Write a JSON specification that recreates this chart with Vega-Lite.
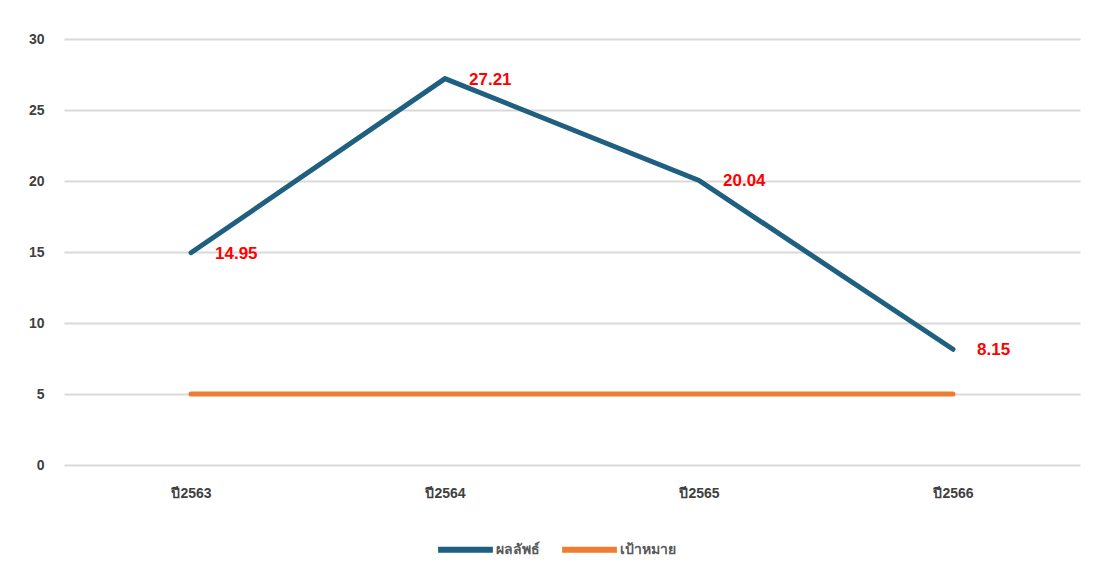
{
  "$schema": "https://vega.github.io/schema/vega-lite/v6.json",
  "width": 1016,
  "height": 426,
  "autosize": {"type": "none"},
  "padding": {"left": 64, "top": 39, "right": 18, "bottom": 118},
  "background": "white",
  "config": {
    "view": {"stroke": null},
    "font": "Liberation Sans, Noto Sans, sans-serif"
  },
  "data": {
    "values": [
      {"year": "ปี2563", "series": "ผลลัพธ์", "value": 14.95},
      {"year": "ปี2564", "series": "ผลลัพธ์", "value": 27.21},
      {"year": "ปี2565", "series": "ผลลัพธ์", "value": 20.04},
      {"year": "ปี2566", "series": "ผลลัพธ์", "value": 8.15},
      {"year": "ปี2563", "series": "เป้าหมาย", "value": 5},
      {"year": "ปี2564", "series": "เป้าหมาย", "value": 5},
      {"year": "ปี2565", "series": "เป้าหมาย", "value": 5},
      {"year": "ปี2566", "series": "เป้าหมาย", "value": 5}
    ]
  },
  "encoding": {
    "x": {
      "field": "year",
      "type": "ordinal",
      "scale": {"type": "point", "padding": 0.5},
      "axis": {
        "title": null,
        "labelAngle": 0,
        "domain": false,
        "ticks": false,
        "labelPadding": 21,
        "labelFontSize": 14,
        "labelFontWeight": "bold",
        "labelColor": "#404040"
      }
    },
    "y": {
      "field": "value",
      "type": "quantitative",
      "scale": {"domain": [0, 30]},
      "axis": {
        "title": null,
        "values": [0, 5, 10, 15, 20, 25, 30],
        "domain": false,
        "ticks": false,
        "labelPadding": 20,
        "labelFontSize": 14,
        "labelFontWeight": "bold",
        "labelColor": "#404040",
        "gridColor": "#d9d9d9",
        "gridWidth": 2
      }
    }
  },
  "layer": [
    {
      "mark": {"type": "line", "strokeWidth": 5, "strokeCap": "round", "strokeJoin": "miter"},
      "encoding": {
        "color": {
          "field": "series",
          "type": "nominal",
          "scale": {"domain": ["ผลลัพธ์", "เป้าหมาย"], "range": ["#1f5f80", "#ed7d31"]},
          "legend": {
            "title": null,
            "orient": "none",
            "legendX": 371,
            "legendY": 480,
            "direction": "horizontal",
            "symbolType": "stroke",
            "symbolSize": 3000,
            "symbolStrokeWidth": 6,
            "labelFontSize": 14,
            "labelFontWeight": "bold",
            "labelColor": "#595959",
            "labelOffset": 0,
            "columnPadding": 10
          }
        }
      }
    },
    {
      "transform": [{"filter": "datum.series === 'ผลลัพธ์'"}],
      "mark": {
        "type": "text",
        "align": "left",
        "baseline": "middle",
        "dx": 24,
        "dy": 1,
        "fontSize": 17,
        "fontWeight": "bold",
        "color": "#ff0000"
      },
      "encoding": {
        "text": {"field": "value", "type": "quantitative", "format": ".2f"}
      }
    }
  ]
}
